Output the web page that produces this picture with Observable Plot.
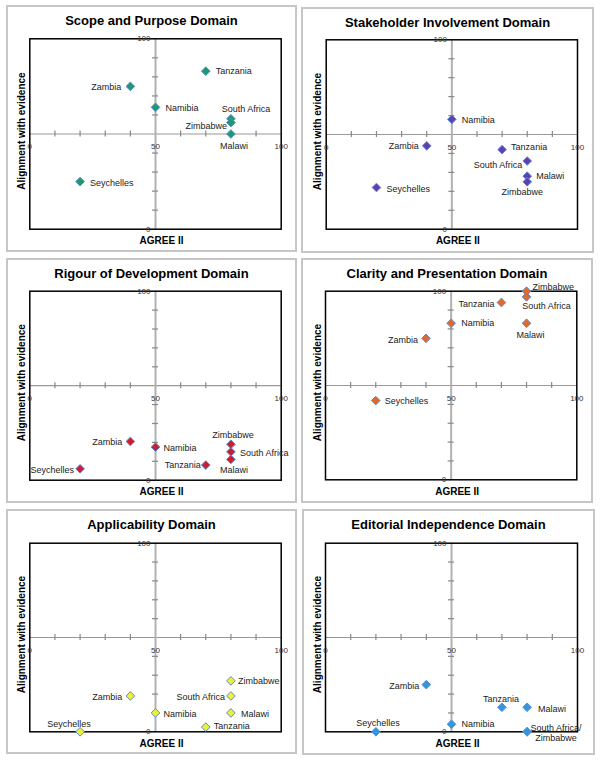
<!DOCTYPE html>
<html><head><meta charset="utf-8">
<script src="https://cdn.jsdelivr.net/npm/d3@7"></script>
<script src="https://cdn.jsdelivr.net/npm/@observablehq/plot@0.6"></script>
<style>
body{margin:0;background:#fff;}
#root{position:relative;width:600px;height:762px;font-family:"Liberation Sans",Arial,sans-serif;overflow:hidden;}
.panel{position:absolute;}
.border{position:absolute;border:2px solid #c6c6c6;box-sizing:border-box;}
.title{position:absolute;left:0;right:0;text-align:center;font-weight:bold;font-size:13px;color:#000;height:18px;line-height:18px;}
svg{overflow:visible;}
</style></head><body><div id="root"></div>
<script>
// ---- data ----
const countries = ["Malawi","Namibia","Seychelles","South Africa","Tanzania","Zambia","Zimbabwe"];
const domainTitles = ["Scope and Purpose Domain","Stakeholder Involvement Domain","Rigour of Development Domain","Clarity and Presentation Domain","Applicability Domain","Editorial Independence Domain"];
// AGREE II score (x) and alignment with evidence (y), per country, per domain
const scopeX = [80, 50, 20, 80, 70, 40, 80];
const scopeY = [50, 64, 25, 58, 83, 75, 56];
const stakeX = [80, 50, 20, 80, 70, 40, 80];
const stakeY = [28, 58, 22, 36, 42, 44, 25];
const rigourX = [80, 50, 20, 80, 70, 40, 80];
const rigourY = [11, 17.5, 6, 15, 8, 20.5, 19];
const clarityX = [80, 50, 20, 80, 70, 40, 80];
const clarityY = [83, 83, 42, 97, 94, 75, 100];
const applicX = [80, 50, 20, 80, 70, 40, 80];
const applicY = [10, 10, 0, 19, 2.5, 19, 27];
const editX = [80, 50, 20, 80, 70, 40, 80];
const editY = [13, 4, 0, 0, 13, 25, 0];
// editorial panel merges two labels
const editLabels = ["Malawi","Namibia","Seychelles","South Africa/\nZimbabwe","Tanzania","Zambia",""];
const xTickLabels = [0, 50, 100];
const yTickLabels = [0, 100];
const minorTicks = [10, 20, 30, 40, 60, 70, 80, 90];
const crossing = 50;
const axisLabelX = "AGREE II";
const axisLabelY = "Alignment with evidence";

// ---- styles / layout ----
const fills = ["#1e9a66", "#6040ae", "#cc1e2c", "#e06a2a", "#f0f032", "#2f98de"];
const dotStroke = "#5a8ad6";
const boxes = [
  {L:7,T:6,R:296,B:251, fL:29.3,fT:38.3,fR:280.7,fB:228.7},
  {L:302,T:8,R:593,B:252, fL:325.7,fT:39.3,fR:577,fB:228.7},
  {L:7,T:259,R:296,B:502, fL:29.3,fT:290.7,fR:280.7,fB:479.7},
  {L:302,T:259,R:592,B:502, fL:325,fT:290.7,fR:576.3,fB:479.3},
  {L:7,T:510,R:296,B:753, fL:29.3,fT:542.7,fR:280.7,fB:731.3},
  {L:303,T:510,R:594,B:754, fL:325,fT:542.7,fR:577,fB:731.3}
];
// label offsets [dx, dy, anchor] per country, per panel
const S="start", E="end", M="middle";
const labelPos = [
  [[3,12,M],[10,0,S],[10,1,S],[15,-10,M],[10,0,S],[-9,0,E],[-4,3,E]],
  [[9,0,S],[10,0,S],[10,1,S],[-5,4,E],[9,-3,S],[-8,0,E],[-5,10,M]],
  [[3,10,M],[8,1,S],[-6,1,E],[9,1,S],[-5,0,E],[-8,0,E],[2,-10,M]],
  [[4,12,M],[10,0,S],[9,0,S],[20,9,M],[-7,1,E],[-8,1,E],[6,-4,S]],
  [[10,1,S],[8,1,S],[-11,-8,M],[-6,1,E],[8,-1,S],[-8,1,E],[7,0,S]],
  [[11,1,S],[10,0,S],[2,-9,M],[29,1,M],[-1,-9,M],[-7,1,E],[0,0,S]]
];

const xs = [scopeX, stakeX, rigourX, clarityX, applicX, editX];
const ys = [scopeY, stakeY, rigourY, clarityY, applicY, editY];

const root = document.getElementById("root");
const FONT = "Liberation Sans, Arial, sans-serif";

for (let p = 0; p < 6; p++) {
  const b = boxes[p];
  const W = b.R - b.L, H = b.B - b.T, svgTop = 24;
  const div = document.createElement("div");
  div.className = "panel";
  Object.assign(div.style, {left: b.L + "px", top: b.T + "px", width: W + "px", height: H + "px"});
  const border = document.createElement("div");
  border.className = "border";
  Object.assign(border.style, {left: "-1px", top: "-1px", width: (W + 2) + "px", height: (H + 2) + "px"});
  div.appendChild(border);
  const title = document.createElement("div");
  title.className = "title";
  title.style.top = "6px";
  title.textContent = domainTitles[p];
  div.appendChild(title);

  const rows = countries.map((c, i) => ({
    country: c,
    label: p === 5 ? editLabels[i] : c,
    x: xs[p][i],
    y: ys[p][i],
    pos: labelPos[p][i]
  }));

  const labelMarks = rows.filter(r => r.label).map(r => Plot.text([r], {
    x: "x", y: "y", text: "label",
    dx: r.pos[0], dy: r.pos[1], textAnchor: r.pos[2],
    fontSize: 9, fill: "#222", fontFamily: FONT, lineHeight: 1.12
  }));

  const chart = Plot.plot({
    width: W,
    height: H - svgTop,
    marginLeft: b.fL - b.L,
    marginRight: b.R - b.fR,
    marginTop: b.fT - (b.T + svgTop),
    marginBottom: b.B - b.fB,
    style: {fontFamily: FONT, background: "transparent", overflow: "visible"},
    x: {domain: [0, 100], axis: null},
    y: {domain: [0, 100], axis: null},
    marks: [
      Plot.ruleY([crossing], {stroke: "#999", strokeWidth: 1.2}),
      Plot.ruleX([crossing], {stroke: "#b0b0b0", strokeWidth: 2}),
      Plot.ruleX(minorTicks, {x: d => d, y1: () => crossing, y2: () => crossing, insetTop: -3, insetBottom: -3, stroke: "#888", strokeWidth: 1.2}),
      Plot.ruleY(minorTicks, {y: d => d, x1: () => crossing, x2: () => crossing, insetLeft: -3, insetRight: -3, stroke: "#888", strokeWidth: 1.2}),
      Plot.frame({stroke: "#000", strokeWidth: 1.5}),
      Plot.text(xTickLabels, {x: d => d, y: () => crossing, text: d => String(d), dy: 12.5, fontSize: 8, fill: "#333", fontFamily: FONT}),
      Plot.text(yTickLabels, {y: d => d, x: () => crossing, text: d => String(d), dx: -5, textAnchor: "end", fontSize: 8, fill: "#333", fontFamily: FONT}),
      Plot.text([axisLabelX], {frameAnchor: "bottom", lineAnchor: "middle", textAnchor: "middle", text: d => d, dx: 6, dy: 12, fontWeight: "bold", fontSize: 10, fill: "#000", fontFamily: FONT}),
      Plot.text([axisLabelY], {frameAnchor: "left", lineAnchor: "middle", textAnchor: "middle", text: d => d, rotate: -90, dx: -8, dy: -3, fontWeight: "bold", fontSize: 10, fill: "#000", fontFamily: FONT}),
      Plot.dot(rows, {x: "x", y: "y", symbol: "diamond2", r: 3.9, fill: fills[p], stroke: dotStroke, strokeWidth: 1}),
      ...labelMarks
    ]
  });
  chart.style.position = "absolute";
  chart.style.left = "0px";
  chart.style.top = svgTop + "px";
  div.appendChild(chart);
  root.appendChild(div);
}
</script>
</body></html>
